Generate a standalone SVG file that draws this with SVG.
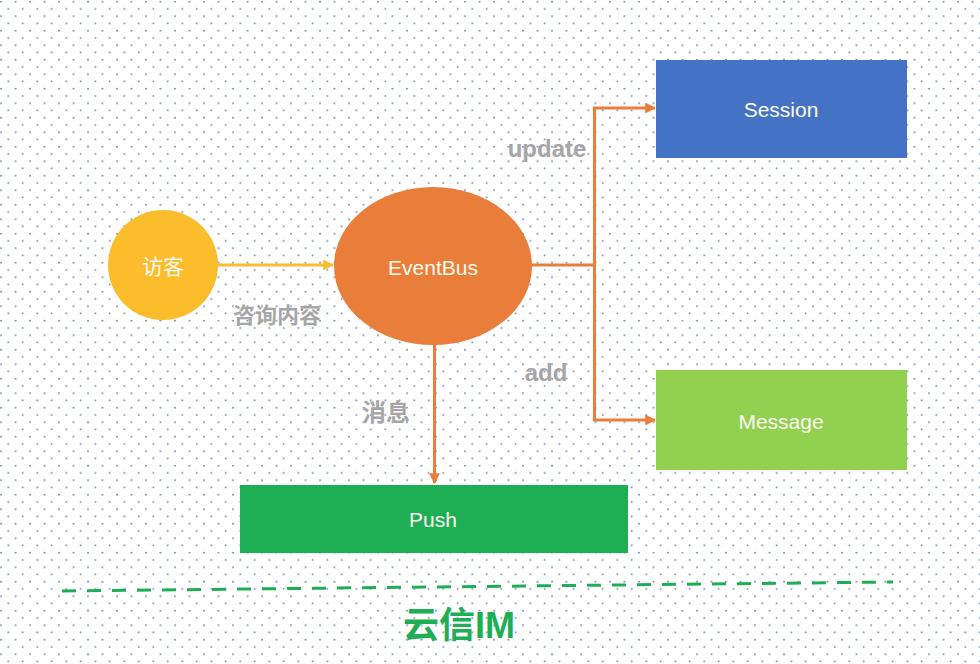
<svg xmlns="http://www.w3.org/2000/svg" width="980" height="664" viewBox="0 0 980 664">
<defs>
<pattern id="dots" x="0" y="0" width="14.5" height="14.5" patternUnits="userSpaceOnUse">
<circle cx="1" cy="1.7" r="0.9" fill="#6a84a8"/>
<circle cx="8.25" cy="8.95" r="0.9" fill="#6a84a8"/>
</pattern>
<marker id="arrO" viewBox="0 0 10 10" refX="9" refY="5" markerWidth="3.6" markerHeight="3.6" orient="auto" markerUnits="strokeWidth">
<path d="M0,0 L10,5 L0,10 z" fill="#e97e3a"/>
</marker>
<marker id="arrY" viewBox="0 0 10 10" refX="9" refY="5" markerWidth="3.6" markerHeight="3.6" orient="auto" markerUnits="strokeWidth">
<path d="M0,0 L10,5 L0,10 z" fill="#f9bd2d"/>
</marker>
</defs>
<style>
.node-text{font-family:"Liberation Sans","Noto Sans CJK SC",sans-serif;font-size:21px;fill:#fdfaf0;text-anchor:middle;dominant-baseline:central}
.lbl{font-family:"Liberation Sans","Noto Sans CJK SC",sans-serif;font-weight:bold;fill:#a6a6a6;text-anchor:middle}
.conn{fill:none;stroke-width:3}
</style>
<rect width="980" height="664" fill="#ffffff"/>
<rect width="980" height="664" fill="url(#dots)"/>

<g id="connectors">
<line class="conn" x1="218" y1="265" x2="333" y2="265" stroke="#f9bd2d" marker-end="url(#arrY)"/>
<polyline class="conn" points="532,265 594.5,265 594.5,108 655,108" stroke="#e97e3a" marker-end="url(#arrO)"/>
<polyline class="conn" points="594.5,265 594.5,420 655,420" stroke="#e97e3a" marker-end="url(#arrO)"/>
<line class="conn" x1="434.5" y1="344" x2="434.5" y2="483" stroke="#e97e3a" marker-end="url(#arrO)"/>
</g>

<g id="visitor">
<circle cx="163" cy="265" r="55" fill="#fbbd2c"/>
<text class="node-text" x="163" y="266">访客</text>
</g>
<g id="eventbus">
<ellipse cx="433" cy="266" rx="99" ry="79" fill="#e97e3a"/>
<text class="node-text" x="433" y="267">EventBus</text>
</g>
<g id="session">
<rect x="656" y="60" width="251" height="98" fill="#4472c4"/>
<text class="node-text" x="781" y="109">Session</text>
</g>
<g id="message">
<rect x="656" y="370" width="251" height="100" fill="#92d050"/>
<text class="node-text" x="781" y="421">Message</text>
</g>
<g id="push">
<rect x="240" y="485" width="388" height="68" fill="#1eaf55"/>
<text class="node-text" x="433" y="519">Push</text>
</g>

<g id="labels">
<text class="lbl" x="547" y="157" font-size="24">update</text>
<text class="lbl" x="546" y="381" font-size="24">add</text>
<text class="lbl" x="277" y="323" font-size="22">咨询内容</text>
<text class="lbl" x="386" y="421" font-size="24">消息</text>
</g>

<g id="divider">
<line x1="62" y1="591" x2="893" y2="582" stroke="#1eaf55" stroke-width="3" stroke-dasharray="14 11"/>
<text x="459" y="638" font-family="'Liberation Sans','Noto Sans CJK SC',sans-serif" font-size="36" font-weight="bold" fill="#1eaf55" text-anchor="middle">云信IM</text>
</g>
</svg>
